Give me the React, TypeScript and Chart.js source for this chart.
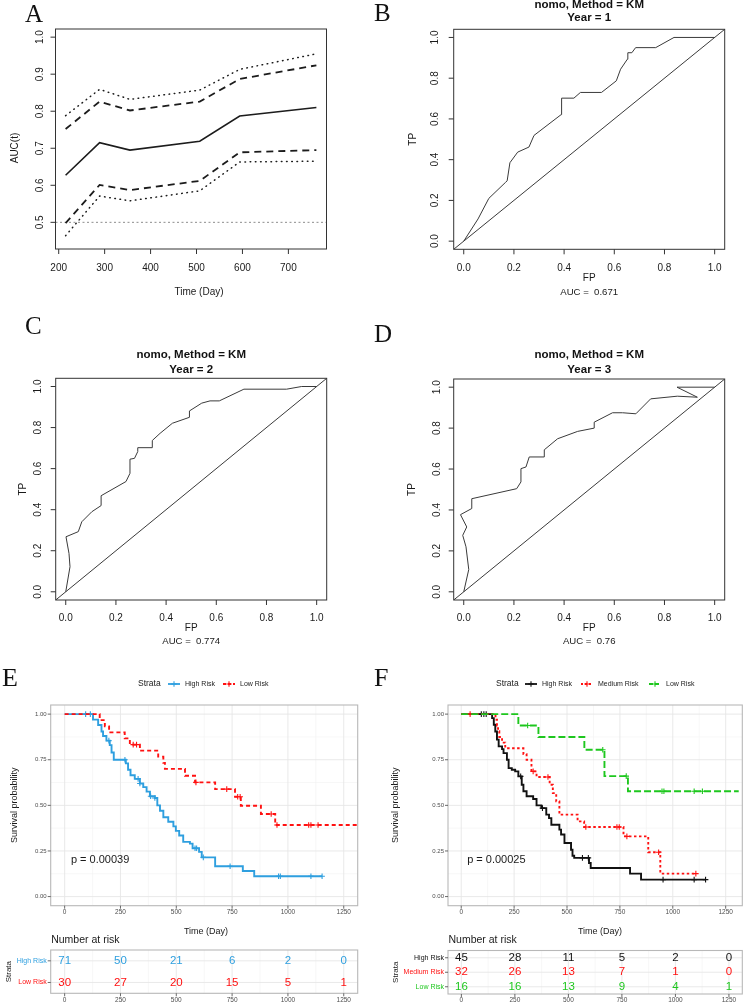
import React, { useEffect, useRef } from "react";
import { Chart, registerables } from "chart.js";
import type { ChartConfiguration, Plugin } from "chart.js";

Chart.register(...registerables);

const SANS = '"Liberation Sans", Arial, Helvetica, sans-serif';
const SERIF = '"Liberation Serif", "Times New Roman", serif';

// ---------- A: time dependent AUC ----------
const aucTimes = [215, 289, 355, 507, 594, 761];
const aucMid = [0.627, 0.715, 0.695, 0.719, 0.787, 0.81];
const aucDashHi = [0.752, 0.826, 0.802, 0.826, 0.887, 0.924];
const aucDashLo = [0.498, 0.601, 0.587, 0.612, 0.689, 0.695];
const aucDotHi = [0.788, 0.859, 0.832, 0.857, 0.913, 0.955];
const aucDotLo = [0.464, 0.571, 0.558, 0.585, 0.663, 0.665];
const aucRef = 0.5;
const aucXRange = [193, 783];
const aucYRange = [0.428, 1.022];
const aucXTicks = [200, 300, 400, 500, 600, 700];
const aucYTicks = [0.5, 0.6, 0.7, 0.8, 0.9, 1.0];

// ---------- B-D: ROC curves ----------
const rocRange = [-0.04, 1.04];
const rocTicks = [0, 0.2, 0.4, 0.6, 0.8, 1.0];

const roc1Fp = [0, 0.057, 0.1, 0.166, 0.173, 0.184, 0.215, 0.26, 0.28, 0.388, 0.39, 0.439, 0.465, 0.549, 0.608, 0.625, 0.652, 0.654, 0.67, 0.685, 0.765, 0.838, 1];
const roc1Tp = [0, 0.109, 0.21, 0.288, 0.296, 0.385, 0.437, 0.462, 0.519, 0.621, 0.702, 0.702, 0.73, 0.73, 0.787, 0.844, 0.893, 0.925, 0.925, 0.95, 0.95, 1.0, 1.0];

const roc2Fp = [0, 0.017, 0.013, 0.001, 0.05, 0.064, 0.104, 0.141, 0.141, 0.24, 0.256, 0.256, 0.274, 0.287, 0.287, 0.345, 0.345, 0.376, 0.425, 0.493, 0.493, 0.542, 0.575, 0.612, 0.71, 0.88, 0.94, 1];
const roc2Tp = [0, 0.122, 0.187, 0.268, 0.293, 0.341, 0.39, 0.42, 0.468, 0.537, 0.577, 0.646, 0.65, 0.683, 0.702, 0.702, 0.737, 0.772, 0.821, 0.85, 0.881, 0.919, 0.93, 0.93, 0.987, 0.987, 1.0, 1.0];

const roc3Fp = [0, 0.02, 0.009, -0.004, 0.012, -0.013, 0.032, 0.032, 0.211, 0.228, 0.228, 0.248, 0.261, 0.321, 0.321, 0.374, 0.454, 0.52, 0.52, 0.593, 0.633, 0.686, 0.745, 0.851, 0.931, 0.85, 1];
const roc3Tp = [0, 0.109, 0.22, 0.276, 0.317, 0.377, 0.407, 0.455, 0.504, 0.537, 0.602, 0.61, 0.659, 0.659, 0.694, 0.748, 0.784, 0.8, 0.829, 0.875, 0.875, 0.87, 0.943, 0.956, 0.951, 1.0, 1.0];

// ---------- E / F: Kaplan-Meier ----------
const kmXRange = [-62.5, 1312.5];
const kmYRange = [-0.05, 1.05];
const kmXTicks = [0, 250, 500, 750, 1000, 1250];
const kmXMinor = [125, 375, 625, 875, 1125];
const kmYTicks = [0, 0.25, 0.5, 0.75, 1];
const kmYMinor = [0.125, 0.375, 0.625, 0.875];
const kmYLabels = ["0.00", "0.25", "0.50", "0.75", "1.00"];

const eHighT = [0, 127, 150, 165, 172, 187, 202, 210, 220, 274, 284, 295, 314, 337, 352, 367, 382, 404, 415, 427, 442, 464, 487, 498, 513, 531, 561, 573, 602, 614, 674, 798, 849, 1153];
const eHighS = [1, 0.97, 0.94, 0.905, 0.88, 0.855, 0.83, 0.79, 0.75, 0.73, 0.695, 0.665, 0.645, 0.62, 0.6, 0.575, 0.55, 0.54, 0.5, 0.47, 0.435, 0.41, 0.385, 0.36, 0.335, 0.3, 0.29, 0.265, 0.245, 0.215, 0.166, 0.14, 0.111, 0.111];
const eHighCens = [94, 115, 198, 270, 329, 337, 385, 404, 584, 591, 621, 741, 958, 966, 1103, 1153];

const eLowT = [0, 157, 180, 199, 269, 292, 337, 419, 442, 449, 539, 584, 674, 763, 789, 879, 943, 1312];
const eLowS = [1, 0.967, 0.933, 0.9, 0.867, 0.833, 0.8, 0.767, 0.733, 0.7, 0.662, 0.626, 0.589, 0.547, 0.498, 0.453, 0.392, 0.392];
const eLowCens = [307, 322, 588, 726, 775, 786, 925, 951, 1093, 1103, 1135];

const fHighT = [0, 146, 154, 161, 169, 177, 193, 200, 216, 224, 239, 255, 270, 286, 294, 309, 340, 356, 379, 402, 415, 426, 464, 472, 488, 519, 526, 534, 604, 612, 798, 850, 1155];
const fHighS = [1, 0.978, 0.942, 0.905, 0.86, 0.823, 0.808, 0.786, 0.75, 0.704, 0.695, 0.686, 0.659, 0.613, 0.577, 0.55, 0.535, 0.5, 0.485, 0.449, 0.43, 0.394, 0.367, 0.34, 0.294, 0.257, 0.224, 0.212, 0.184, 0.157, 0.126, 0.093, 0.093];
const fHighCens = [95, 107, 118, 281, 384, 573, 601, 954, 1101, 1155];

const fMedT = [0, 162, 169, 174, 180, 193, 208, 294, 309, 332, 356, 418, 433, 449, 464, 550, 581, 767, 884, 941, 1109];
const fMedS = [1, 0.969, 0.938, 0.906, 0.875, 0.844, 0.813, 0.781, 0.75, 0.686, 0.655, 0.613, 0.567, 0.522, 0.449, 0.412, 0.381, 0.33, 0.243, 0.126, 0.126];
const fMedCens = [42, 340, 410, 589, 736, 747, 783, 933, 1109];

const fLowT = [0, 270, 365, 582, 677, 788, 1312];
const fLowS = [1, 0.9375, 0.875, 0.805, 0.66, 0.577, 0.577];
const fLowCens = [314, 669, 780, 949, 958, 1101, 1140];

// number at risk
const riskTimes = [0, 250, 500, 750, 1000, 1250];
const eRiskHigh = [71, 50, 21, 6, 2, 0];
const eRiskLow = [30, 27, 20, 15, 5, 1];
const fRiskHigh = [45, 28, 11, 5, 2, 0];
const fRiskMed = [32, 26, 13, 7, 1, 0];
const fRiskLow = [16, 16, 13, 9, 4, 1];

const BLUE = "#2E9FDF";
const RED = "#FF1111";
const GREEN = "#1EC71E";
const BLACK = "#111111";

// ---------- helpers ----------
type Frame = { x: number; y: number; w: number; h: number; box: [number, number, number, number] };

const pts = (xs: number[], ys: number[]) => xs.map((x, i) => ({ x, y: ys[i] }));

function survAt(times: number[], surv: number[], t: number) {
  let s = surv[0];
  times.forEach((ti, i) => {
    if (ti <= t) s = surv[i];
  });
  return s;
}

function text(
  ctx: CanvasRenderingContext2D,
  s: string,
  x: number,
  y: number,
  font: string,
  color = "#1a1a1a",
  align: CanvasTextAlign = "center",
  rot = 0,
) {
  ctx.save();
  ctx.font = font;
  ctx.fillStyle = color;
  ctx.textAlign = align;
  ctx.textBaseline = "middle";
  ctx.translate(x, y);
  if (rot) ctx.rotate(rot);
  ctx.fillText(s, 0, 0);
  ctx.restore();
}

function baseOptions(f: Frame, xr: number[], yr: number[], yCat?: string[]): any {
  return {
    responsive: true,
    maintainAspectRatio: false,
    animation: false,
    events: [],
    layout: {
      padding: {
        left: f.box[0] - f.x,
        top: f.box[1] - f.y,
        right: f.x + f.w - f.box[2],
        bottom: f.y + f.h - f.box[3],
      },
    },
    plugins: { legend: { display: false }, tooltip: { enabled: false } },
    scales: {
      x: { type: "linear", min: xr[0], max: xr[1], display: false },
      y: yCat
        ? { type: "category", labels: yCat, offset: true, display: false }
        : { type: "linear", min: yr[0], max: yr[1], display: false },
    },
  };
}

function scalers(chart: Chart, f: Frame) {
  const sx = chart.scales.x;
  const sy = chart.scales.y;
  return {
    px: (v: number) => sx.getPixelForValue(v) + f.x,
    py: (v: number) => sy.getPixelForValue(v) + f.y,
  };
}

// ---------- base-R style frame ----------
type BaseSpec = {
  xTicks: number[];
  yTicks: number[];
  xDigits: number;
  yDigits: number;
  xLab: number;
  yLab: number;
  xTitle: string;
  xTitleGap: number;
  xTitleX?: number;
  yTitle: string;
  yTitleGap: number;
  yTitleY?: number;
  sub?: string;
  subGap?: number;
  main?: string[];
  mainGap?: number[];
};

function basePlot(f: Frame, s: BaseSpec): Plugin<"scatter"> {
  return {
    id: "basePlot",
    afterDraw(chart) {
      const ctx = chart.ctx;
      const { px, py } = scalers(chart as any, f);
      const [l, t, r, b] = f.box;
      ctx.save();
      ctx.translate(-f.x, -f.y);
      ctx.strokeStyle = "#333333";
      ctx.lineWidth = 1;
      ctx.strokeRect(l, t, r - l, b - t);
      ctx.beginPath();
      s.xTicks.forEach((v) => {
        ctx.moveTo(px(v), b);
        ctx.lineTo(px(v), b + 5);
      });
      s.yTicks.forEach((v) => {
        ctx.moveTo(l, py(v));
        ctx.lineTo(l - 5, py(v));
      });
      ctx.stroke();
      const f10 = `10px ${SANS}`;
      s.xTicks.forEach((v) => text(ctx, v.toFixed(s.xDigits), px(v), b + s.xLab, f10));
      s.yTicks.forEach((v) => text(ctx, v.toFixed(s.yDigits), l - s.yLab, py(v), f10, "#1a1a1a", "center", -Math.PI / 2));
      const cx = (l + r) / 2;
      const cy = (t + b) / 2;
      text(ctx, s.xTitle, s.xTitleX ?? cx, b + s.xTitleGap, f10);
      text(ctx, s.yTitle, l - s.yTitleGap, s.yTitleY ?? cy, f10, "#1a1a1a", "center", -Math.PI / 2);
      if (s.sub) text(ctx, s.sub, cx, b + (s.subGap ?? 0), `9.6px ${SANS}`);
      (s.main || []).forEach((m, i) => text(ctx, m, cx, t - (s.mainGap || [])[i], `bold 11.5px ${SANS}`, "#111"));
      ctx.restore();
    },
  };
}

// ---------- ggplot style frame ----------
function ggGrid(ctx: CanvasRenderingContext2D, box: number[], px: any, py: any, xs: number[], ys: number[], color: string, w: number) {
  ctx.strokeStyle = color;
  ctx.lineWidth = w;
  ctx.beginPath();
  xs.forEach((v) => {
    ctx.moveTo(px(v), box[1]);
    ctx.lineTo(px(v), box[3]);
  });
  ys.forEach((v) => {
    ctx.moveTo(box[0], py(v));
    ctx.lineTo(box[2], py(v));
  });
  ctx.stroke();
}

function ggBorderAndX(ctx: CanvasRenderingContext2D, box: number[], px: any) {
  const [l, t, r, b] = box;
  ctx.strokeStyle = "#B8B8B8";
  ctx.lineWidth = 1.1;
  ctx.strokeRect(l, t, r - l, b - t);
  ctx.strokeStyle = "#444";
  ctx.lineWidth = 0.8;
  ctx.beginPath();
  kmXTicks.forEach((v) => {
    ctx.moveTo(px(v), b);
    ctx.lineTo(px(v), b + 3);
  });
  ctx.stroke();
  kmXTicks.forEach((v) => text(ctx, String(v), px(v), b + 6.5, `6.5px ${SANS}`, "#4D4D4D"));
}

type KeySpec = { label: string; color: string; dash: number[]; x: number };
type KmSpec = { legendX: number; legendY: number; keys: KeySpec[]; yTitleX: number; xTitleX: number; xTitleY: number; pValue: string };

function kmPlot(f: Frame, s: KmSpec): Plugin<"scatter"> {
  return {
    id: "kmPlot",
    beforeDatasetsDraw(chart) {
      const ctx = chart.ctx;
      const { px, py } = scalers(chart as any, f);
      ctx.save();
      ctx.translate(-f.x, -f.y);
      ggGrid(ctx, f.box, px, py, kmXMinor, kmYMinor, "#F2F2F2", 0.6);
      ggGrid(ctx, f.box, px, py, kmXTicks, kmYTicks, "#E6E6E6", 0.9);
      ctx.restore();
    },
    afterDatasetsDraw(chart) {
      const ctx = chart.ctx;
      const { px, py } = scalers(chart as any, f);
      const [l, t, r, b] = f.box;
      ctx.save();
      ctx.translate(-f.x, -f.y);
      ggBorderAndX(ctx, f.box, px);
      ctx.strokeStyle = "#444";
      ctx.lineWidth = 0.8;
      ctx.beginPath();
      kmYTicks.forEach((v) => {
        ctx.moveTo(l, py(v));
        ctx.lineTo(l - 3, py(v));
      });
      ctx.stroke();
      kmYTicks.forEach((v, i) => text(ctx, kmYLabels[i], l - 4, py(v), `6px ${SANS}`, "#4D4D4D", "right"));
      text(ctx, "Survival probability", s.yTitleX, (t + b) / 2, `9px ${SANS}`, "#1a1a1a", "center", -Math.PI / 2);
      text(ctx, "Time (Day)", s.xTitleX, s.xTitleY, `9px ${SANS}`);
      text(ctx, s.pValue, px(28), py(0.2), `11px ${SANS}`, "#1a1a1a", "left");
      // legend
      text(ctx, "Strata", s.legendX, s.legendY, `8.5px ${SANS}`, "#1a1a1a", "left");
      s.keys.forEach((k) => {
        ctx.strokeStyle = k.color;
        ctx.lineWidth = 1.8;
        ctx.setLineDash(k.dash);
        ctx.beginPath();
        ctx.moveTo(k.x, s.legendY);
        ctx.lineTo(k.x + 12, s.legendY);
        ctx.stroke();
        ctx.setLineDash([]);
        ctx.lineWidth = 1.1;
        ctx.beginPath();
        ctx.moveTo(k.x + 6, s.legendY - 2.8);
        ctx.lineTo(k.x + 6, s.legendY + 2.8);
        ctx.moveTo(k.x + 3.2, s.legendY);
        ctx.lineTo(k.x + 8.8, s.legendY);
        ctx.stroke();
        text(ctx, k.label, k.x + 17, s.legendY, `7px ${SANS}`, "#222", "left");
      });
      ctx.restore();
    },
  };
}

type TableSpec = { colors: string[]; strataX: number };

function riskTable(f: Frame, s: TableSpec): Plugin<"scatter"> {
  return {
    id: "riskTable",
    beforeDatasetsDraw(chart) {
      const ctx = chart.ctx;
      const { px, py } = scalers(chart as any, f);
      const rows = (chart.scales.y as any).getLabels().map((_: string, i: number) => i);
      ctx.save();
      ctx.translate(-f.x, -f.y);
      ggGrid(ctx, f.box, px, py, kmXMinor, [], "#F2F2F2", 0.6);
      ggGrid(ctx, f.box, px, py, kmXTicks, rows, "#E6E6E6", 0.9);
      ctx.restore();
    },
    afterDatasetsDraw(chart) {
      const ctx = chart.ctx;
      const { px, py } = scalers(chart as any, f);
      const labels: string[] = (chart.scales.y as any).getLabels();
      const [l, t, , b] = f.box;
      ctx.save();
      ctx.translate(-f.x, -f.y);
      ggBorderAndX(ctx, f.box, px);
      labels.forEach((lab, i) => {
        ctx.strokeStyle = "#444";
        ctx.lineWidth = 0.8;
        ctx.beginPath();
        ctx.moveTo(l, py(i));
        ctx.lineTo(l - 3, py(i));
        ctx.stroke();
        text(ctx, lab, l - 4, py(i), `7px ${SANS}`, s.colors[i], "right");
      });
      text(ctx, "Strata", s.strataX, (t + b) / 2, `8px ${SANS}`, "#1a1a1a", "center", -Math.PI / 2);
      text(ctx, "Number at risk", l + 0.5, t - 10, `10.5px ${SANS}`, "#1a1a1a", "left");
      chart.data.datasets.forEach((ds: any, di: number) => {
        chart.getDatasetMeta(di).data.forEach((el: any, j: number) => {
          text(ctx, String(ds.data[j].n), el.x + f.x, el.y + f.y, `11.5px ${SANS}`, s.colors[di]);
        });
      });
      ctx.restore();
    },
  };
}

// ---------- frames ----------
const aFrame: Frame = { x: 0, y: 0, w: 372, h: 300, box: [55.5, 29, 326.5, 249] };
const bFrame: Frame = { x: 372, y: 0, w: 372, h: 300, box: [453.7, 29.3, 724.7, 249.3] };
const cFrame: Frame = { x: 0, y: 300, w: 372, h: 355, box: [55.7, 378.3, 326.7, 600] };
const dFrame: Frame = { x: 372, y: 300, w: 372, h: 355, box: [453.7, 379, 724.7, 600] };
const eFrame: Frame = { x: 0, y: 655, w: 372, h: 285, box: [50.7, 705, 357.7, 905.7] };
const eTabFrame: Frame = { x: 0, y: 926, w: 372, h: 77, box: [50.7, 950, 357.7, 993.3] };
const fFrame: Frame = { x: 372, y: 655, w: 372, h: 285, box: [448, 705, 742.3, 905.7] };
const fTabFrame: Frame = { x: 372, y: 926, w: 372, h: 77, box: [448, 950.5, 742.3, 994] };

// ---------- configs ----------
const line = (xs: number[], ys: number[], color: string, width: number, dash: number[] = [], cap: CanvasLineCap = "butt") => ({
  data: pts(xs, ys),
  showLine: true,
  borderColor: color,
  borderWidth: width,
  borderDash: dash,
  borderCapStyle: cap,
  pointRadius: 0,
});

function aucConfig(): ChartConfiguration<"scatter"> {
  return {
    type: "scatter",
    data: {
      datasets: [
        line(aucTimes, aucMid, "#1c1c1c", 1.6),
        line(aucTimes, aucDashHi, "#1c1c1c", 1.8, [7, 5]),
        line(aucTimes, aucDashLo, "#1c1c1c", 1.8, [7, 5]),
        line(aucTimes, aucDotHi, "#1c1c1c", 1.5, [0.6, 4.6], "round"),
        line(aucTimes, aucDotLo, "#1c1c1c", 1.5, [0.6, 4.6], "round"),
        line(aucXRange, [aucRef, aucRef], "#808080", 0.9, [2, 2.5]),
      ] as any,
    },
    options: baseOptions(aFrame, aucXRange, aucYRange),
    plugins: [
      basePlot(aFrame, {
        xTicks: aucXTicks,
        yTicks: aucYTicks,
        xDigits: 0,
        yDigits: 1,
        xLab: 19,
        yLab: 15.5,
        xTitle: "Time (Day)",
        xTitleGap: 43,
        xTitleX: 199,
        yTitle: "AUC(t)",
        yTitleGap: 40.5,
        yTitleY: 148,
      }),
    ],
  };
}

function rocConfig(f: Frame, fp: number[], tp: number[], spec: BaseSpec): ChartConfiguration<"scatter"> {
  return {
    type: "scatter",
    data: {
      datasets: [line(fp, tp, "#3a3a3a", 1), line(rocRange, rocRange, "#3a3a3a", 1)] as any,
    },
    options: baseOptions(f, rocRange, rocRange),
    plugins: [basePlot(f, spec)],
  };
}

const rocSpec = (year: number, auc: string, o: Partial<BaseSpec>): BaseSpec => ({
  xTicks: rocTicks,
  yTicks: rocTicks,
  xDigits: 1,
  yDigits: 1,
  xLab: 18.7,
  yLab: 17.5,
  xTitle: "FP",
  xTitleGap: 29,
  yTitle: "TP",
  yTitleGap: 40,
  sub: `AUC =  ${auc}`,
  subGap: 42.5,
  main: ["nomo, Method = KM", `Year = ${year}`],
  mainGap: [24, 10],
  ...o,
});

const curve = (times: number[], surv: number[], color: string, dash: number[], order: number) => ({
  data: pts(times, surv),
  showLine: true,
  stepped: true,
  borderColor: color,
  borderWidth: 1.9,
  borderDash: dash,
  pointRadius: 0,
  order,
});

const marks = (cens: number[], times: number[], surv: number[], color: string, order: number) => ({
  data: cens.map((t) => ({ x: t, y: survAt(times, surv, t) })),
  showLine: false,
  pointStyle: "cross",
  pointRadius: 2.8,
  pointBorderColor: color,
  pointBorderWidth: 1.1,
  borderColor: color,
  order,
});

function eConfig(): ChartConfiguration<"scatter"> {
  return {
    type: "scatter",
    data: {
      datasets: [
        curve(eHighT, eHighS, BLUE, [], 4),
        marks(eHighCens, eHighT, eHighS, BLUE, 3),
        curve(eLowT, eLowS, RED, [4, 3], 2),
        marks(eLowCens, eLowT, eLowS, RED, 1),
      ] as any,
    },
    options: baseOptions(eFrame, kmXRange, kmYRange),
    plugins: [
      kmPlot(eFrame, {
        legendX: 138,
        legendY: 684,
        keys: [
          { label: "High Risk", color: BLUE, dash: [], x: 168 },
          { label: "Low Risk", color: RED, dash: [3, 2], x: 223 },
        ],
        yTitleX: 15,
        xTitleX: 206,
        xTitleY: 931.7,
        pValue: "p = 0.00039",
      }),
    ],
  };
}

function fConfig(): ChartConfiguration<"scatter"> {
  return {
    type: "scatter",
    data: {
      datasets: [
        curve(fHighT, fHighS, BLACK, [], 6),
        marks(fHighCens, fHighT, fHighS, BLACK, 5),
        curve(fMedT, fMedS, RED, [2.5, 2.5], 4),
        marks(fMedCens, fMedT, fMedS, RED, 3),
        curve(fLowT, fLowS, GREEN, [7, 3], 2),
        marks(fLowCens, fLowT, fLowS, GREEN, 1),
      ] as any,
    },
    options: baseOptions(fFrame, kmXRange, kmYRange),
    plugins: [
      kmPlot(fFrame, {
        legendX: 496,
        legendY: 684,
        keys: [
          { label: "High Risk", color: BLACK, dash: [], x: 525 },
          { label: "Medium Risk", color: RED, dash: [2, 2], x: 581 },
          { label: "Low Risk", color: GREEN, dash: [4, 2], x: 649 },
        ],
        yTitleX: 395.3,
        xTitleX: 600,
        xTitleY: 931.7,
        pValue: "p = 0.00025",
      }),
    ],
  };
}

const riskRow = (row: string, counts: number[]) => ({
  data: riskTimes.map((t, j) => ({ x: t, y: row, n: counts[j] })),
  showLine: false,
  pointRadius: 0,
});

function tableConfig(f: Frame, rows: string[], counts: number[][], colors: string[], strataX: number): ChartConfiguration<"scatter"> {
  return {
    type: "scatter",
    data: { datasets: rows.map((r, i) => riskRow(r, counts[i])) as any },
    options: baseOptions(f, kmXRange, [0, 1], rows),
    plugins: [riskTable(f, { colors, strataX })],
  };
}

// ---------- components ----------
function ChartPanel({ frame, build }: { frame: Frame; build: () => ChartConfiguration<any> }) {
  const ref = useRef<HTMLCanvasElement | null>(null);
  useEffect(() => {
    if (!ref.current) return;
    const chart = new Chart(ref.current, build());
    return () => chart.destroy();
  }, [build]);
  return (
    <div style={{ position: "absolute", left: frame.x, top: frame.y, width: frame.w, height: frame.h }}>
      <canvas ref={ref} />
    </div>
  );
}

const buildA = () => aucConfig();
const buildB = () => rocConfig(bFrame, roc1Fp, roc1Tp, rocSpec(1, "0.671", { xLab: 19, yLab: 18.4, xTitleGap: 29, subGap: 43, mainGap: [24.3, 11] }));
const buildC = () => rocConfig(cFrame, roc2Fp, roc2Tp, rocSpec(2, "0.774", { xLab: 18.3, yLab: 17.4, xTitleGap: 28.5, yTitleGap: 32.4, subGap: 41.7, mainGap: [23.3, 8.3] }));
const buildD = () => rocConfig(dFrame, roc3Fp, roc3Tp, rocSpec(3, "0.76", { xLab: 18.3, yLab: 16.7, xTitleGap: 28.5, yTitleGap: 41.7, subGap: 41.7, mainGap: [24, 9] }));
const buildE = () => eConfig();
const buildF = () => fConfig();
const buildETable = () => tableConfig(eTabFrame, ["High Risk", "Low Risk"], [eRiskHigh, eRiskLow], [BLUE, RED], 8.3);
const buildFTable = () =>
  tableConfig(fTabFrame, ["High Risk", "Medium Risk", "Low Risk"], [fRiskHigh, fRiskMed, fRiskLow], [BLACK, RED, GREEN], 395.3);

const letters = [
  { t: "A", x: 25, base: 21.7, size: 25 },
  { t: "B", x: 374, base: 20.5, size: 25 },
  { t: "C", x: 25, base: 334, size: 25 },
  { t: "D", x: 374, base: 342, size: 25 },
  { t: "E", x: 2, base: 687, size: 26 },
  { t: "F", x: 374, base: 687, size: 26 },
];

export default function App() {
  return (
    <div style={{ position: "absolute", left: 0, top: 0, width: 744, height: 1003, background: "#fff", overflow: "hidden" }}>
      <ChartPanel frame={aFrame} build={buildA} />
      <ChartPanel frame={bFrame} build={buildB} />
      <ChartPanel frame={cFrame} build={buildC} />
      <ChartPanel frame={dFrame} build={buildD} />
      <ChartPanel frame={eFrame} build={buildE} />
      <ChartPanel frame={eTabFrame} build={buildETable} />
      <ChartPanel frame={fFrame} build={buildF} />
      <ChartPanel frame={fTabFrame} build={buildFTable} />
      {letters.map((l) => (
        <div
          key={l.t}
          style={{
            position: "absolute",
            left: l.x,
            top: l.base - 0.8375 * l.size,
            fontFamily: SERIF,
            fontSize: l.size,
            lineHeight: `${l.size}px`,
            color: "#111",
          }}
        >
          {l.t}
        </div>
      ))}
    </div>
  );
}
